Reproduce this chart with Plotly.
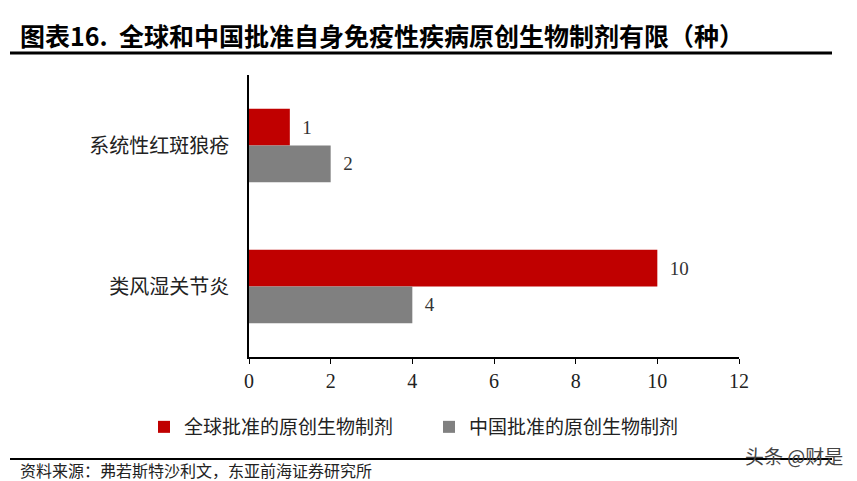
import plotly.graph_objects as go

# data
categories = ["系统性红斑狼疮", "类风湿关节炎"]
global_approved = [1, 10]
china_approved = [2, 4]
series_names = ["全球批准的原创生物制剂", "中国批准的原创生物制剂"]
x_ticks = [0, 2, 4, 6, 8, 10, 12]

title_text = "图表16.  全球和中国批准自身免疫性疾病原创生物制剂有限（种）"
source_text = "资料来源：弗若斯特沙利文，东亚前海证券研究所"

W, H = 857, 481
L, R, T, B = 249, 739, 75, 357  # plot area in px


def px(x):
    return (x - L) / (R - L)


def py(y):
    return (B - y) / (B - T)


cjk = "Noto Sans CJK SC"
serif = "Liberation Serif"

fig = go.Figure()
fig.add_trace(go.Bar(
    y=categories, x=global_approved, name=series_names[0], orientation="h",
    marker=dict(color="#C00000", line=dict(width=0)),
    texttemplate="  %{x}", textposition="outside", cliponaxis=False,
    textfont=dict(family=serif, size=19, color="#333333"),
))
fig.add_trace(go.Bar(
    y=categories, x=china_approved, name=series_names[1], orientation="h",
    marker=dict(color="#808080", line=dict(width=0)),
    texttemplate="  %{x}", textposition="outside", cliponaxis=False,
    textfont=dict(family=serif, size=19, color="#333333"),
))

fig.update_layout(
    width=W, height=H,
    margin=dict(l=L, r=W - R, t=T, b=H - B),
    paper_bgcolor="white", plot_bgcolor="white",
    barmode="group", bargap=0.48, bargroupgap=0,
    showlegend=True,
    legend=dict(
        orientation="h", x=px(144), y=py(427), xanchor="left", yanchor="middle",
        font=dict(family=cjk, size=19, color="#222222"),
        entrywidth=240, itemwidth=30,
    ),
    xaxis=dict(
        range=[0, 12], tickvals=x_ticks, showgrid=False, zeroline=False,
        showline=True, linecolor="black", linewidth=1.5,
        ticks="outside", ticklen=5, tickcolor="black", tickwidth=1.2,
        tickfont=dict(family=serif, size=20, color="#222222"),
    ),
    yaxis=dict(
        categoryorder="array", categoryarray=categories, autorange="reversed",
        showgrid=False, zeroline=False, showline=True, linecolor="black",
        linewidth=1.5, ticks="", ticklabelstandoff=14,
        tickfont=dict(family=cjk, size=20, color="#222222"),
    ),
    font=dict(family=cjk),
)

# title, rules, source, watermark
fig.add_annotation(
    text="<b>" + title_text + "</b>", xref="paper", yref="paper",
    x=px(18), y=py(35), xanchor="left", yanchor="middle", showarrow=False,
    font=dict(family=cjk, size=25, color="black"),
)
fig.add_shape(type="line", xref="paper", yref="paper",
              x0=px(10), x1=px(832), y0=py(53), y1=py(53),
              line=dict(color="black", width=3))
fig.add_shape(type="line", xref="paper", yref="paper",
              x0=px(10), x1=px(832), y0=py(459), y1=py(459),
              line=dict(color="black", width=2))
fig.add_annotation(
    text=source_text, xref="paper", yref="paper",
    x=px(18), y=py(470), xanchor="left", yanchor="middle", showarrow=False,
    font=dict(family=cjk, size=16, color="#222222"),
)
fig.add_annotation(
    text="头条 @财是", xref="paper", yref="paper",
    x=px(845), y=py(455), xanchor="right", yanchor="middle", showarrow=False,
    font=dict(family=cjk, size=19, color="#444444"),
)

fig.write_html("out.html", config={"displayModeBar": False},
               post_script="document.body.style.margin = '0';")
